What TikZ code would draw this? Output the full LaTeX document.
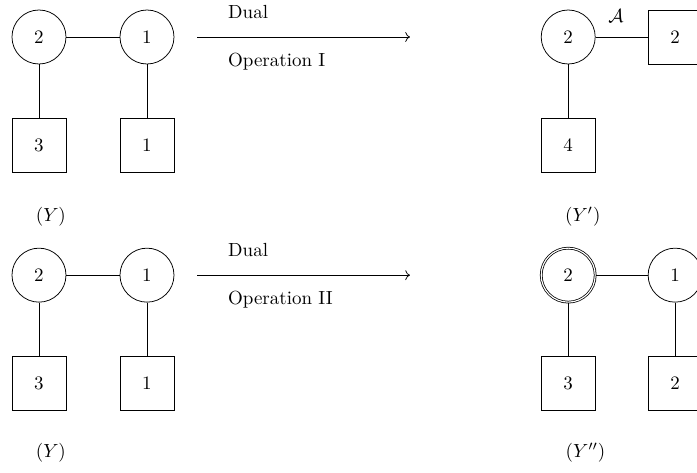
\documentclass[tikz,border=0pt]{standalone}
\usepackage{amsmath,amssymb}
\usepackage{xcolor}
\usepackage{tikz}
\usetikzlibrary{positioning,arrows.meta,calc}

\begin{document}
\begin{tikzpicture}[gauge/.style={draw, circle, minimum size=1cm, inner sep=0pt},
  flavor/.style={draw, rectangle, minimum size=1cm, inner sep=0pt},
  oplabel/.style={anchor=west}]
  \useasboundingbox (-0.722, 0.685) rectangle (12.185, -8.056);

  % Quiver Y (top)
  \node[gauge] (ta) at (0, 0) {2};
  \node[gauge] (tb) at (2, 0) {1};
  \node[flavor] (tfa) at (0, -2) {3};
  \node[flavor] (tfb) at (2, -2) {1};
  \draw (ta) -- (tb);
  \draw (ta) -- (tfa);
  \draw (tb) -- (tfb);
  \node (tlab) at (0.22, -3.33) {$(Y)$};

  % Operation I
  \coordinate (tstart) at (2.93, 0);
  \coordinate (tend) at (6.87, 0);
  \draw[->] (tstart) -- (tend);
  \node[oplabel] (tdual) at (3.38, 0.46) {Dual};
  \node[oplabel] (top) at (3.38, -0.46) {Operation I};

  % Quiver Y'
  \node[gauge] (pa) at (9.8, 0) {2};
  \node[flavor] (pfb) at (11.78, 0) {2};
  \node[flavor] (pfa) at (9.8, -2) {4};
  \draw (pa) -- node[above, yshift=4pt, xshift=-3pt] (alab) {$\mathcal{A}$} (pfb);
  \draw (pa) -- (pfa);
  \node (plab) at (10.07, -3.33) {$(Y')$};

  % Quiver Y (bottom)
  \node[gauge] (ba) at (0, -4.41) {2};
  \node[gauge] (bb) at (2, -4.41) {1};
  \node[flavor] (bfa) at (0, -6.41) {3};
  \node[flavor] (bfb) at (2, -6.41) {1};
  \draw (ba) -- (bb);
  \draw (ba) -- (bfa);
  \draw (bb) -- (bfb);
  \node (blab) at (0.22, -7.70) {$(Y)$};

  % Operation II
  \coordinate (bstart) at (2.93, -4.41);
  \coordinate (bend) at (6.87, -4.41);
  \draw[->] (bstart) -- (bend);
  \node[oplabel] (bdual) at (3.38, -3.95) {Dual};
  \node[oplabel] (bop) at (3.38, -4.87) {Operation II};

  % Quiver Y''
  \node[gauge, double] (qa) at (9.8, -4.41) {2};
  \node[gauge] (qb) at (11.78, -4.41) {1};
  \node[flavor] (qfa) at (9.8, -6.41) {3};
  \node[flavor] (qfb) at (11.78, -6.41) {2};
  \draw (qa) -- (qb);
  \draw (qa) -- (qfa);
  \draw (qb) -- (qfb);
  \node (qlab) at (10.12, -7.70) {$(Y'')$};

\end{tikzpicture}
\end{document}
